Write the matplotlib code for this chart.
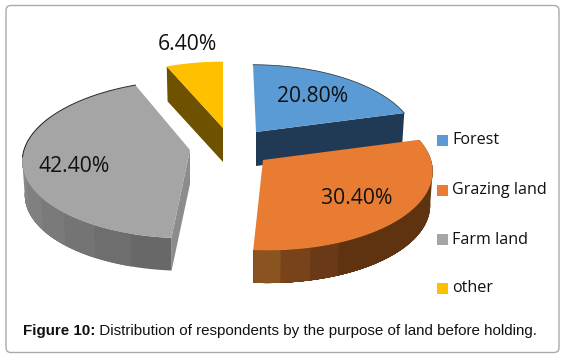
import numpy as np
import matplotlib
matplotlib.use('Agg')  # Use non-interactive backend
import matplotlib.pyplot as plt
from matplotlib.colors import to_rgb
from matplotlib.patches import Polygon, FancyBboxPatch, Rectangle

labels = ['Forest', 'Grazing land', 'Farm land', 'other']
values = [20.8, 30.4, 42.4, 6.4]
value_labels = ['20.80%', '30.40%', '42.40%', '6.40%']
top_colors = ['#5b9bd5', '#e77c32', '#a5a5a5', '#ffc000']
cut_colors = ['#203a56', '#5f3310', '#8c8c8c', '#6e5200']

# apex pixel, radius x, radius y and small shear of each exploded slice
apex = [(256, 132), (263, 160), (190, 150), (223, 128)]
radius = [(159, 75), (168, 80), (166, 78), (159, 74)]
shear = [-3, -4.5, 4.5, 0]
label_pos = [(313, 97), (357, 198), (74, 166), (187, 45)]
legend_y = [140.5, 190, 239.5, 288.5]
DEPTH = 34
PERSP = 0.115

# shaded bands of the outer wall, in drawing order along the rim
orange_bands = ['#5f3310'] * 9 + ['#6a3917', '#78431a', '#8a5420']
grey_bands = ['#686868', '#6e6e6e', '#747474', '#7a7a7a', '#808080', '#848484', '#888888', '#8c8c8c', '#8e8e8e']
wall_bands = {1: orange_bands, 2: grey_bands}


def rim_points(i, angles, shrink=1.0):
    """Project angles (clockwise from the back of the pie) to picture pixels"""
    u, v = np.sin(angles), np.cos(angles)
    s = 1 / (1 + PERSP * v)
    x = apex[i][0] + radius[i][0] * shrink * u * s + shear[i] * v
    y = apex[i][1] - radius[i][1] * shrink * v * s
    return x, y


fig = plt.figure(figsize=(5.67, 3.57), dpi=100)
ax = fig.add_axes([0, 0, 1, 1])
ax.set_xlim(0, 567)
ax.set_ylim(357, 0)
ax.axis('off')

ax.add_patch(FancyBboxPatch((6, 5.5), 553, 347, boxstyle='round,pad=0,rounding_size=5',
                            fc='white', ec='#aaaaaa', lw=1.0))

edges = np.radians(np.cumsum([0] + values) * 3.6)

# Forest first, then yellow and grey, orange overlaps the forest slice
for i in [0, 3, 2, 1]:
    a = np.linspace(edges[i], edges[i + 1], 120)
    x, y = rim_points(i, a)
    xb, yb = rim_points(i, a, 0.985)
    yb = yb + DEPTH
    ax0, ay0 = apex[i]

    # cut face
    if i == 0:
        cut = [(ax0, ay0), (x[-1], y[-1]), (xb[-1], yb[-1]), (ax0, ay0 + DEPTH)]
    elif i == 3:
        cut = [(x[0], y[0]), (ax0, ay0), (ax0, ay0 + DEPTH), (xb[0], yb[0])]
    elif i == 2:
        cut = [(ax0, ay0), (x[0], y[0]), (xb[0], yb[0]), (ax0, ay0 + DEPTH)]
    else:
        cut = None
    if cut:
        ax.add_patch(Polygon(cut, closed=True, fc=cut_colors[i], ec='none'))

    # outer wall, facing part only: each band runs on to the wall's end and
    # the next band paints over it, so no seams show between them
    if i in wall_bands:
        bands = wall_bands[i]
        front = np.where(np.cos(a) < 0.45)[0]
        chunks = np.array_split(front, len(bands))
        for n, chunk in enumerate(chunks):
            j0, j1 = chunk[0], front[-1]
            wall = list(zip(x[j0:j1 + 1], y[j0:j1 + 1])) + list(zip(xb[j0:j1 + 1], yb[j0:j1 + 1]))[::-1]
            ax.add_patch(Polygon(wall, closed=True, fc=to_rgb(bands[n]), ec='none'))

    # top face
    pts = [apex[i]] + list(zip(x, y))
    ax.add_patch(Polygon(pts, closed=True, fc=top_colors[i], ec='none'))
    if i == 0:
        ax.plot(x, y, color='#2a2a2a', lw=0.5)
    if i == 2:
        back = np.cos(a) > -0.1
        ax.plot(x[back], y[back], color='#2a2a2a', lw=0.7)

for pos, txt in zip(label_pos, value_labels):
    ax.text(pos[0], pos[1], txt, ha='center', va='center', fontsize=15.2, color='#111111', family='Open Sans')

for y0, name, col in zip(legend_y, labels, top_colors):
    ax.add_patch(Rectangle((437, y0 - 5.5), 11, 11, fc=col, ec='none'))
    ax.text(452, y0, name, ha='left', va='center', fontsize=11.6, color='#111111', family='Open Sans')

cap = ax.text(23, 330.5, 'Figure 10:', ha='left', va='center', fontsize=10.9,
              family='Liberation Sans', fontweight='bold', color='#111111')
ax.annotate(' Distribution of respondents by the purpose of land before holding.',
            xy=(1, 0), xycoords=cap, va='bottom', ha='left', fontsize=10.9,
            family='Liberation Sans', color='#111111')

fig.savefig('out.png', dpi=100)
